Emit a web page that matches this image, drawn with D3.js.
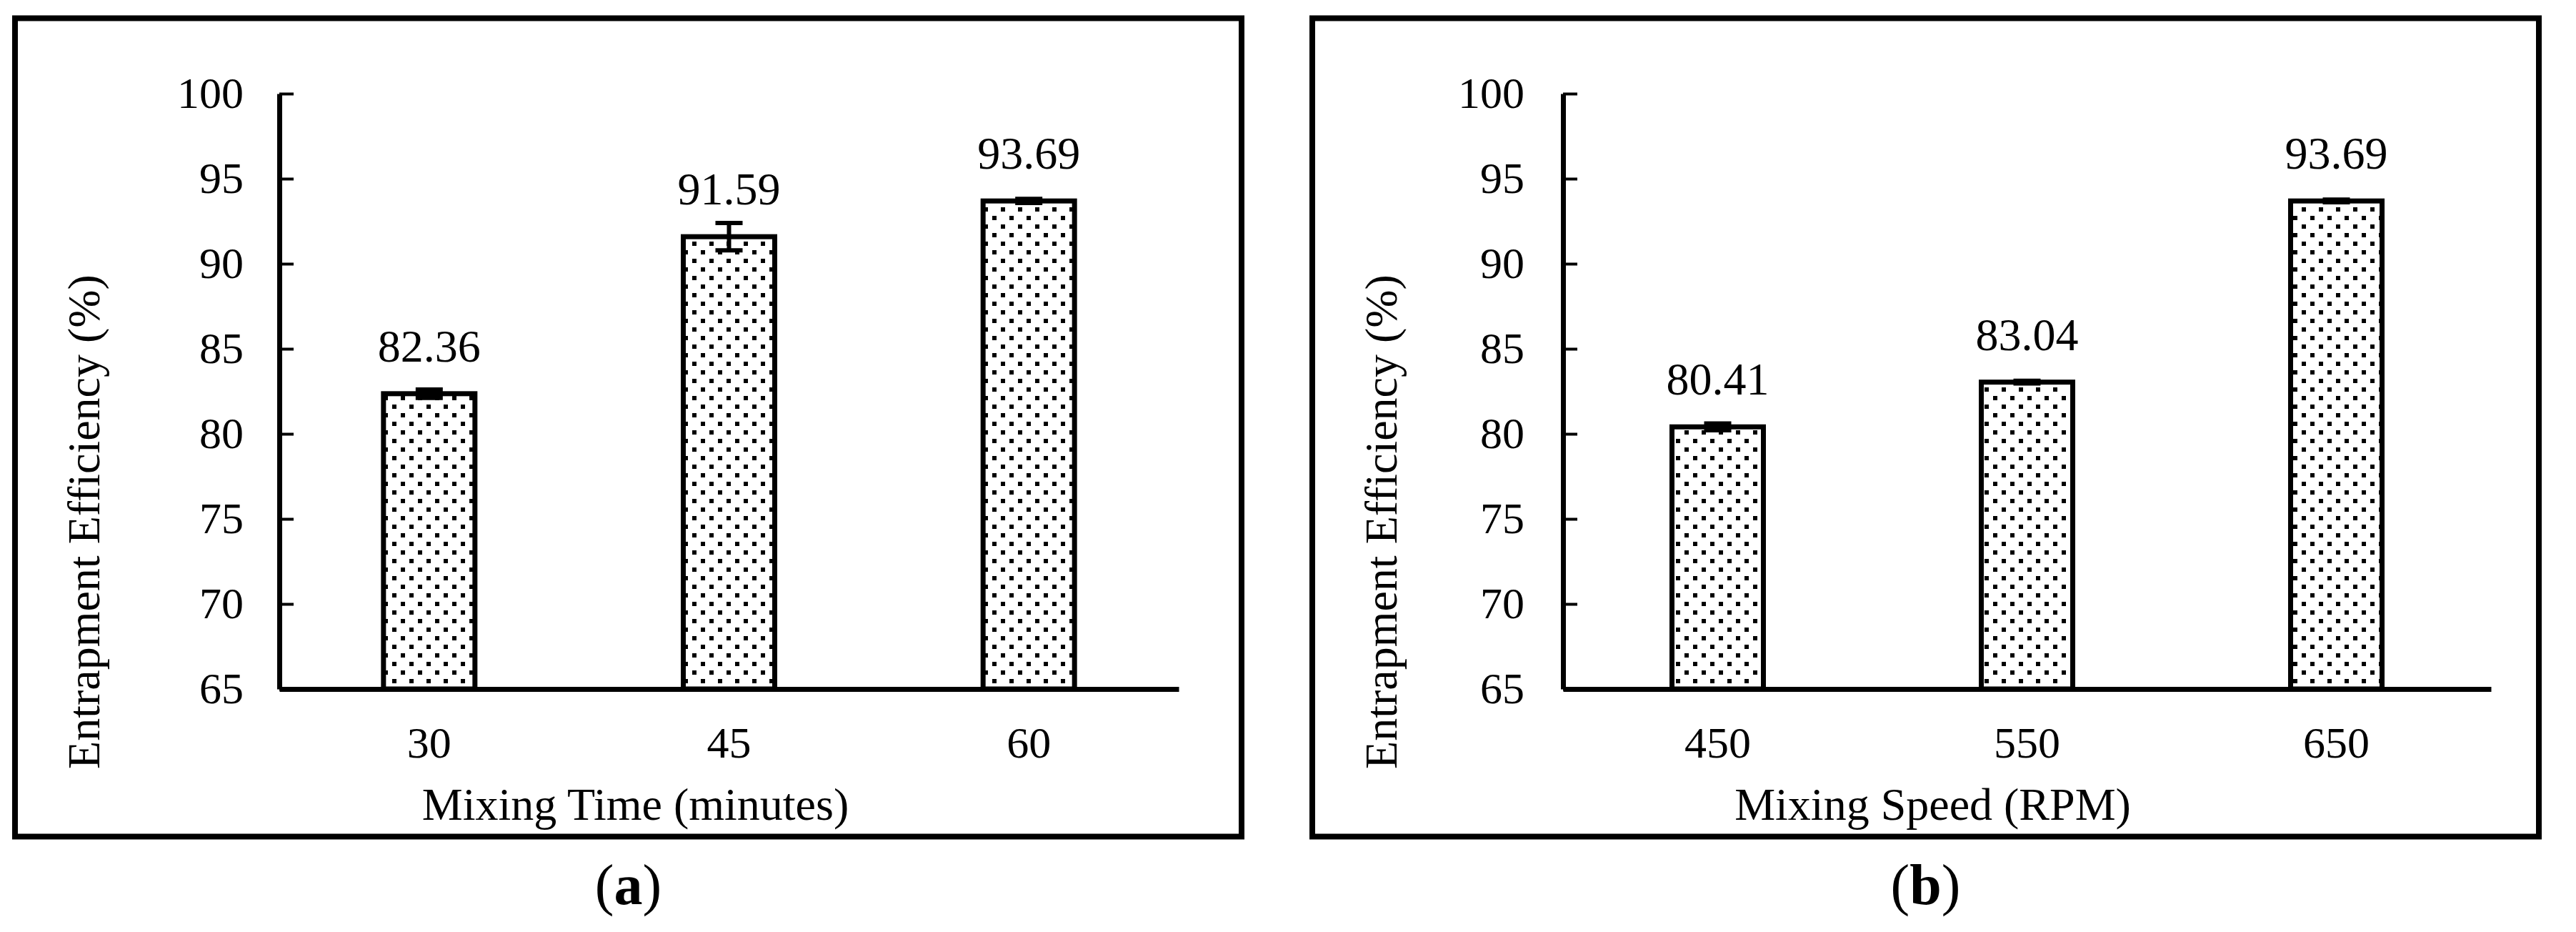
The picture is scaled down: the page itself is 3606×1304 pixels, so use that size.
<!DOCTYPE html>
<html><head><meta charset="utf-8">
<script src="https://cdn.jsdelivr.net/npm/d3@7"></script>
<style>
body{margin:0;background:#fff}
svg{display:block;background:#fff}
text{font-family:"Liberation Serif","Times New Roman",serif;fill:#000}
</style>
</head><body>
<svg id="chart" width="3606" height="1304"></svg>
<script>
// ---- data ----
const yTickValues = [65, 70, 75, 80, 85, 90, 95, 100];
const timeCategories = ["30", "45", "60"];
const timeValues = [82.36, 91.59, 93.69];
const timeErrors = [0.25, 0.8, 0.12];
const speedCategories = ["450", "550", "650"];
const speedValues = [80.41, 83.04, 93.69];
const speedErrors = [0.2, 0.08, 0.08];
const yAxisTitle = "Entrapment Efficiency (%)";
const timeAxisTitle = "Mixing Time (minutes)";
const speedAxisTitle = "Mixing Speed (RPM)";
const panelLetters = ["a", "b"];

// ---- layout ----
const svg = d3.select("#chart");
const defs = svg.append("defs");
const pat = defs.append("pattern")
  .attr("id", "dots").attr("patternUnits", "userSpaceOnUse")
  .attr("width", 24).attr("height", 24);
pat.append("rect").attr("width", 24).attr("height", 24).attr("fill", "#fff");
pat.append("rect").attr("x", 2).attr("y", 2).attr("width", 6).attr("height", 6).attr("fill", "#000");
pat.append("rect").attr("x", 14).attr("y", 14).attr("width", 6).attr("height", 6).attr("fill", "#000");

const panels = [
  {frameX: 21, axisX: 391, axisEnd: 1650, labelPad: 50,
   cats: timeCategories, vals: timeValues, errs: timeErrors, xTitle: timeAxisTitle, letter: panelLetters[0]},
  {frameX: 1837, axisX: 2188, axisEnd: 3487, labelPad: 54,
   cats: speedCategories, vals: speedValues, errs: speedErrors, xTitle: speedAxisTitle, letter: panelLetters[1]}
];
const frameW = 1717, frameY = 25.5, frameH = 1145;
const yTop = 131, yBottom = 964;
const barW = 128;

panels.forEach(p => {
  const g = svg.append("g");
  // frame
  g.append("rect").attr("x", p.frameX).attr("y", frameY)
    .attr("width", frameW).attr("height", frameH)
    .attr("fill", "none").attr("stroke", "#000").attr("stroke-width", 8);

  const plotW = p.axisEnd - p.axisX;
  const step = plotW / p.cats.length;
  const pI = 1 - barW / step;
  const x = d3.scaleBand().domain(p.cats).range([0, plotW])
    .paddingInner(pI).paddingOuter(pI / 2);
  const y = d3.scaleLinear().domain([65, 100]).range([yBottom, yTop]);

  const plot = g.append("g").attr("transform", `translate(${p.axisX},0)`);

  // bars
  plot.selectAll("rect.bar").data(p.vals).join("rect")
    .attr("class", "bar")
    .attr("x", (d, i) => x(p.cats[i]))
    .attr("y", d => y(d))
    .attr("width", x.bandwidth())
    .attr("height", d => y(65) - y(d))
    .attr("fill", "url(#dots)")
    .attr("stroke", "#000").attr("stroke-width", 7);

  // error bars
  const capW = 38;
  p.vals.forEach((v, i) => {
    const cx = x(p.cats[i]) + x.bandwidth() / 2;
    const e = p.errs[i];
    const eg = plot.append("g").attr("stroke", "#000").attr("stroke-width", 6);
    eg.append("line").attr("x1", cx).attr("x2", cx).attr("y1", y(v + e)).attr("y2", y(v - e));
    eg.append("line").attr("x1", cx - capW / 2).attr("x2", cx + capW / 2).attr("y1", y(v + e)).attr("y2", y(v + e));
    eg.append("line").attr("x1", cx - capW / 2).attr("x2", cx + capW / 2).attr("y1", y(v - e)).attr("y2", y(v - e));
  });

  // value labels
  plot.selectAll("text.val").data(p.vals).join("text")
    .attr("class", "val")
    .attr("x", (d, i) => x(p.cats[i]) + x.bandwidth() / 2)
    .attr("y", d => y(d) - 45)
    .attr("text-anchor", "middle")
    .attr("font-size", 64)
    .text(d => d.toFixed(2));

  // y axis
  const ya = plot.append("g").call(
    d3.axisLeft(y).tickValues(yTickValues).tickSizeInner(-20).tickSizeOuter(0)
      .tickPadding(p.labelPad).tickFormat(d3.format("d")));
  ya.select(".domain").attr("stroke", "#000").attr("stroke-width", 7);
  ya.selectAll(".tick line").attr("stroke", "#000").attr("stroke-width", 4);
  ya.selectAll(".tick text").attr("font-size", 62).attr("font-family", null).attr("fill", "#000");

  // x axis
  const xa = plot.append("g").attr("transform", `translate(0,${yBottom})`).call(
    d3.axisBottom(x).tickSize(0).tickPadding(52));
  xa.select(".domain").attr("stroke", "#000").attr("stroke-width", 7);
  xa.selectAll(".tick text").attr("font-size", 62).attr("font-family", null).attr("fill", "#000");

  // y title
  g.append("text")
    .attr("transform", `translate(${p.frameX + 118},730) rotate(-90)`)
    .attr("text-anchor", "middle").attr("font-size", 64)
    .text(yAxisTitle);

  // x title
  g.append("text")
    .attr("x", p.frameX + frameW / 2 + 10).attr("y", 1147)
    .attr("text-anchor", "middle").attr("font-size", 64)
    .text(p.xTitle);

  // caption
  const cap = g.append("text")
    .attr("x", p.frameX + frameW / 2).attr("y", 1265)
    .attr("text-anchor", "middle").attr("font-size", 80);
  cap.append("tspan").text("(");
  cap.append("tspan").attr("font-weight", "bold").text(p.letter);
  cap.append("tspan").text(")");
});
</script>
</body></html>
